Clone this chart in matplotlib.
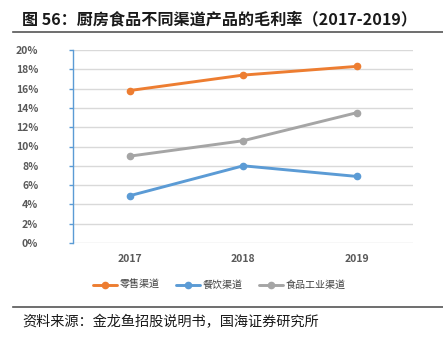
import matplotlib
matplotlib.use("Agg")
import matplotlib.pyplot as plt
from matplotlib.lines import Line2D

plt.rcParams['font.family'] = ['Noto Sans CJK SC', 'DejaVu Sans']

years = ["2017", "2018", "2019"]
series_names = ["零售渠道", "餐饮渠道", "食品工业渠道"]
retail = [15.8, 17.4, 18.3]
catering = [4.9, 8.0, 6.9]
industry = [9.0, 10.6, 13.5]
y_ticks = [0, 2, 4, 6, 8, 10, 12, 14, 16, 18, 20]
y_tick_labels = [f"{v}%" for v in y_ticks]

colors = ["#ED7D31", "#5B9BD5", "#A5A5A5"]

W, H = 443, 340
fig = plt.figure(figsize=(W / 100, H / 100), dpi=100)

# title and separator lines
fig.text(22 / W, 1 - 19 / H, "图 56：厨房食品不同渠道产品的毛利率（2017-2019）",
         fontsize=11.6, fontweight='bold', va='center', ha='left', color='#1a1a1a')
fig.add_artist(Line2D([13 / W, 1], [1 - 32 / H] * 2, color='#555555', lw=1.2))
fig.add_artist(Line2D([13 / W, 1], [1 - 307 / H] * 2, color='#555555', lw=1.2))
fig.text(22 / W, 1 - 322 / H, "资料来源：金龙鱼招股说明书，国海证券研究所",
         fontsize=10.2, va='center', ha='left', color='#1a1a1a')

left, right, top, bottom = 73, 413.4, 50, 243
ax = fig.add_axes([left / W, 1 - bottom / H, (right - left) / W, (bottom - top) / H])

x = list(range(len(years)))
for vals, name, c in zip([retail, catering, industry], series_names, colors):
    ax.plot(x, vals, color=c, lw=2.1, marker='o', markersize=4.5, label=name,
            solid_capstyle='round')

ax.set_xlim(-0.5, len(years) - 0.5)
ax.set_ylim(0, 20)
ax.set_yticks(y_ticks)
ax.set_yticklabels(y_tick_labels)
ax.set_xticks(x)
ax.set_xticklabels(years)

ax.grid(axis='y', color='#D9D9D9', lw=1.0)
ax.set_axisbelow(True)
for s in ['top', 'right', 'bottom']:
    ax.spines[s].set_visible(False)
ax.spines['left'].set_color('#5B9BD5')
ax.spines['left'].set_linewidth(1.0)

ax.tick_params(axis='y', direction='out', length=3, width=1.0, color='#5B9BD5',
               pad=22, labelsize=7.5, labelcolor='#595959')
ax.tick_params(axis='x', length=0, pad=8, labelsize=7.5, labelcolor='#595959')
for t in ax.get_yticklabels() + ax.get_xticklabels():
    t.set_fontweight('bold')

leg = fig.legend(loc='center left', bbox_to_anchor=(93 / W, 1 - 285 / H), ncol=3,
                 frameon=False, fontsize=7.2, handlelength=2.4, columnspacing=1.6,
                 handletextpad=0.3, borderaxespad=0, borderpad=0)
for t in leg.get_texts():
    t.set_color('#404040')

fig.savefig("out.png", dpi=100)
